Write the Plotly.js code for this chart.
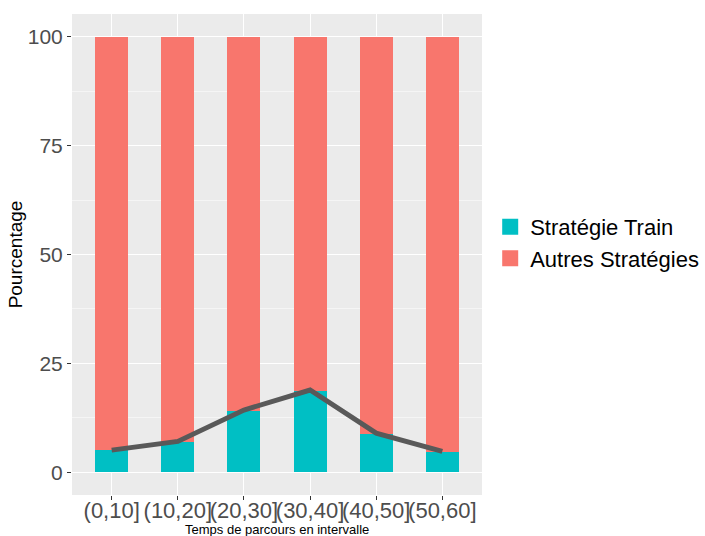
<!DOCTYPE html>
<html>
<head>
<meta charset="utf-8">
<script src="https://cdn.plot.ly/plotly-3.0.1.min.js"></script>
<style>html,body{margin:0;padding:0;background:#fff;}#chart{width:705px;height:536px;}</style>
</head>
<body>
<div id="chart"></div>
<script>
const categories = ["(0,10]", "(10,20]", "(20,30]", "(30,40]", "(40,50]", "(50,60]"];
const trainPct = [5.1, 7.0, 14.1, 18.7, 8.8, 4.7];
const autresPct = trainPct.map(v => 100 - v);
const linePct = [5.1, 7.1, 14.3, 18.9, 9.0, 4.8];
const seriesNames = ["Stratégie Train", "Autres Stratégies"];
const colors = ["#00BFC4", "#F8766D"];
const yTicks = [0, 25, 50, 75, 100];
const yMinorTicks = [12.5, 37.5, 62.5, 87.5];

const traces = [
  {type: "bar", x: categories, y: trainPct, name: seriesNames[0], marker: {color: colors[0]}, width: 0.5, showlegend: false, hoverinfo: "y"},
  {type: "bar", x: categories, y: autresPct, name: seriesNames[1], marker: {color: colors[1]}, width: 0.5, showlegend: false, hoverinfo: "y"},
  {type: "scatter", mode: "lines", x: categories, y: linePct, line: {color: "#595959", width: 5}, showlegend: false, hoverinfo: "y"},
  {type: "scatter", mode: "markers", x: [null], y: [null], name: seriesNames[0], marker: {symbol: "square", size: 21, color: colors[0]}, showlegend: true},
  {type: "scatter", mode: "markers", x: [null], y: [null], name: seriesNames[1], marker: {symbol: "square", size: 21, color: colors[1]}, showlegend: true}
];

const layout = {
  width: 705, height: 536,
  margin: {l: 72, r: 223, t: 14, b: 41, pad: 0, autoexpand: false},
  paper_bgcolor: "#ffffff",
  plot_bgcolor: "#EBEBEB",
  barmode: "stack",
  font: {family: "Liberation Sans, Arial, sans-serif", color: "#000"},
  xaxis: {
    type: "category",
    range: [-0.6, 5.6],
    showgrid: true, gridcolor: "#ffffff", gridwidth: 1.1,
    zeroline: false, showline: false,
    ticks: "outside", ticklen: 4, tickcolor: "#333333", tickwidth: 1,
    tickangle: 0,
    ticklabelstandoff: -8,
    tickfont: {size: 22, color: "#4D4D4D"},
    automargin: false
  },
  yaxis: {
    range: [-5.2, 105.2],
    tickvals: yTicks,
    ticktext: yTicks.map(String),
    showgrid: true, gridcolor: "#ffffff", gridwidth: 1.1,
    minor: {tickvals: yMinorTicks, showgrid: true, gridcolor: "#ffffff", gridwidth: 0.5, ticks: ""},
    zeroline: false, showline: false,
    ticks: "outside", ticklen: 4, tickcolor: "#333333", tickwidth: 1,
    tickfont: {size: 21, color: "#4D4D4D"},
    title: {text: "Pourcentage", font: {size: 19, color: "#000"}, standoff: 0},
    automargin: false
  },
  annotations: [{
    text: "Temps de parcours en intervalle",
    xref: "paper", yref: "paper", x: 0.5, y: 0, yshift: -34.5,
    xanchor: "center", yanchor: "middle", showarrow: false,
    font: {size: 13, color: "#000"}
  }],
  legend: {
    x: 1.02, xanchor: "left", y: 0.524, yanchor: "middle",
    font: {size: 22, color: "#000"},
    bgcolor: "rgba(0,0,0,0)",
    traceorder: "normal",
    tracegroupgap: 0, itemwidth: 30
  },
  showlegend: true
};

Plotly.newPlot("chart", traces, layout, {displayModeBar: false, staticPlot: true});
</script>
</body>
</html>
